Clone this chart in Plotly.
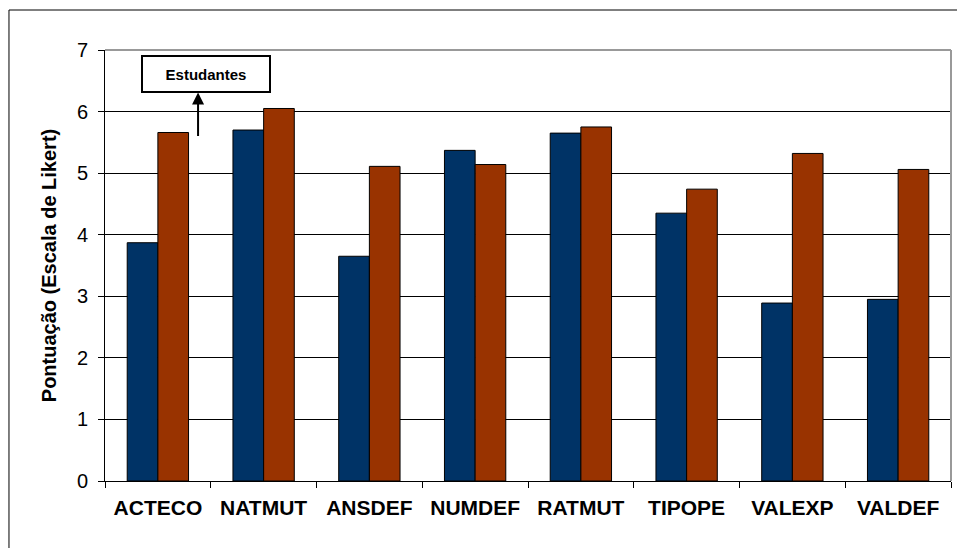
import plotly.graph_objects as go

categories = ["ACTECO", "NATMUT", "ANSDEF", "NUMDEF", "RATMUT", "TIPOPE", "VALEXP", "VALDEF"]
series_a = [3.87, 5.70, 3.65, 5.37, 5.65, 4.35, 2.89, 2.95]
series_b = [5.66, 6.05, 5.11, 5.14, 5.75, 4.74, 5.32, 5.06]
y_ticks = [0, 1, 2, 3, 4, 5, 6, 7]
font_family = "Arial, Liberation Sans, sans-serif"

fig = go.Figure()
fig.add_trace(go.Bar(x=categories, y=series_a, name="A",
                     marker=dict(color="#003366", line=dict(color="black", width=1))))
fig.add_trace(go.Bar(x=categories, y=series_b, name="Estudantes",
                     marker=dict(color="#993300", line=dict(color="black", width=1))))

fig.update_layout(
    width=957, height=548,
    margin=dict(l=105, r=6, t=50, b=67),
    barmode="group", bargap=0.42, bargroupgap=0,
    showlegend=False,
    plot_bgcolor="white", paper_bgcolor="white",
    font=dict(family=font_family, color="black"),
)
fig.update_xaxes(
    type="category", tickson="boundaries", ticks="outside", ticklen=6,
    tickcolor="black", showline=True, linecolor="black", linewidth=1,
    tickfont=dict(size=21, family=font_family, weight="bold"),
    ticklabelstandoff=8,
    showgrid=False,
)
fig.update_yaxes(
    range=[0, 7], tickvals=y_ticks, ticks="outside", ticklen=6, tickcolor="black",
    showline=True, linecolor="black", linewidth=1,
    showgrid=True, gridcolor="black", gridwidth=1,
    tickfont=dict(size=20, family=font_family),
    ticklabelstandoff=6,
    title=dict(text="Pontuação (Escala de Likert)",
               font=dict(size=20, family=font_family, weight="bold"), standoff=14),
    zeroline=False,
)
# plot-area border (top/right gray)
fig.add_shape(type="line", xref="paper", yref="paper", x0=0, x1=1, y0=1, y1=1,
              line=dict(color="#999999", width=2))
fig.add_shape(type="line", xref="paper", yref="paper", x0=1, x1=1, y0=0, y1=1,
              line=dict(color="#999999", width=2))
# outer chart border (right and bottom edges fall outside the picture)
fig.add_shape(type="rect", xref="paper", yref="paper",
              x0=-0.1135, x1=1.03, y0=-0.25, y1=1.0928,
              line=dict(color="black", width=1))
# annotation box and arrow
fig.add_annotation(x=0.456, y=6.615, xref="x", yref="y", text="<b>Estudantes</b>",
                   showarrow=False, font=dict(size=15, family=font_family),
                   bordercolor="black", borderwidth=2, bgcolor="white",
                   width=124, height=32)
fig.add_annotation(x=0.38, y=6.31, xref="x", yref="y", ax=0.38, ay=5.58,
                   axref="x", ayref="y", text="", showarrow=True,
                   arrowhead=2, arrowsize=1.2, arrowwidth=2, arrowcolor="black")

fig.write_html("out.html")
